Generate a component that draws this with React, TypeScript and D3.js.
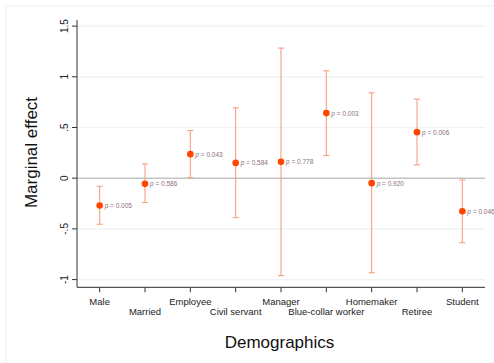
import React from "react";
import * as d3 from "d3";

const categories = ["Male", "Married", "Employee", "Civil servant", "Manager", "Blue-collar worker", "Homemaker", "Retiree", "Student"];
const estimates = [-0.27, -0.056, 0.237, 0.151, 0.161, 0.642, -0.049, 0.454, -0.326];
const lower = [-0.454, -0.24, 0.006, -0.389, -0.961, 0.223, -0.932, 0.131, -0.636];
const upper = [-0.079, 0.141, 0.47, 0.694, 1.283, 1.059, 0.842, 0.78, -0.017];
const pLabels = ["0.005", "0.586", "0.043", "0.584", "0.778", "0.003", "0.920", "0.006", "0.046"];
const yTicks = [-1, -0.5, 0, 0.5, 1, 1.5];
const yTickLabels = ["-1", "-.5", "0", ".5", "1", "1.5"];

export default function App() {
  const W = 494, H = 363;
  const left = 77, right = 485, top = 20, bottom = 287.3;
  const x = d3.scaleLinear().domain([0.5, 9.5]).range([left, right]);
  const y = d3.scaleLinear().domain([-1.076, 1.56]).range([bottom, top]);
  const font = "Liberation Sans, Arial, sans-serif";
  const markerColor = "#ff4500";
  const ciColor = "#f7a081";
  return (
    <svg width={W} height={H} style={{ position: "absolute", left: 0, top: 0, background: "#fff" }} fontFamily={font}>
      <rect x={6} y={6} width={W} height={H} fill="#fff" stroke="#eeeeee" strokeWidth={1} />
      {yTicks.map((t, i) => (
        <g key={i}>
          {t !== 0 && <line x1={left} x2={right} y1={y(t)} y2={y(t)} stroke="#eef2f2" strokeWidth={1.2} />}
          <line x1={left - 5} x2={left} y1={y(t)} y2={y(t)} stroke="#333" strokeWidth={1} />
          <text transform={`translate(${left - 9},${y(t)}) rotate(-90)`} textAnchor="middle" fontSize={10} fill="#222">{yTickLabels[i]}</text>
        </g>
      ))}
      <line x1={left} x2={right} y1={y(0)} y2={y(0)} stroke="#c4c4c4" strokeWidth={1.5} />
      <line x1={left} x2={left} y1={top} y2={bottom} stroke="#333" strokeWidth={1} />
      <line x1={left} x2={right} y1={bottom} y2={bottom} stroke="#555" strokeWidth={1.2} />
      {categories.map((c, i) => {
        const cx = x(i + 1);
        return (
          <g key={c}>
            <line x1={cx} x2={cx} y1={bottom} y2={bottom + 5} stroke="#333" strokeWidth={1} />
            <text x={cx} y={i % 2 === 0 ? 304.5 : 314.5} textAnchor="middle" fontSize={9.5} fill="#222">{c}</text>
            <line x1={cx} x2={cx} y1={y(lower[i])} y2={y(upper[i])} stroke={ciColor} strokeWidth={1.1} />
            <line x1={cx - 3} x2={cx + 3} y1={y(lower[i])} y2={y(lower[i])} stroke={ciColor} strokeWidth={1.1} />
            <line x1={cx - 3} x2={cx + 3} y1={y(upper[i])} y2={y(upper[i])} stroke={ciColor} strokeWidth={1.1} />
            <circle cx={cx} cy={y(estimates[i])} r={3.3} fill={markerColor} />
            <text x={cx + 5} y={y(estimates[i]) + 2.5} fontSize={6.5} fill="#8b6f80">
              <tspan fontStyle="italic">p</tspan> = {pLabels[i]}
            </text>
          </g>
        );
      })}
      <text x={279.5} y={348} textAnchor="middle" fontSize={17} fill="#111">Demographics</text>
      <text transform={`translate(${37},${152.5}) rotate(-90)`} textAnchor="middle" fontSize={17} fill="#111">Marginal effect</text>
    </svg>
  );
}
